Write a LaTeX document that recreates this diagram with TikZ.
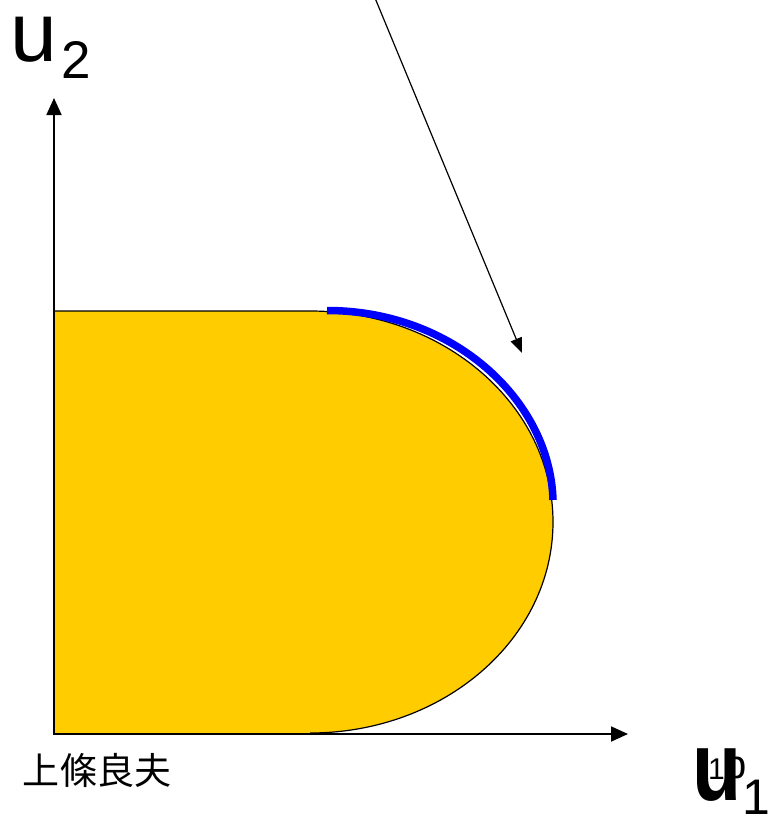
\documentclass[tikz,border=0pt]{standalone}
\usepackage{fontspec}
\setmainfont{Liberation Sans}
\newfontfamily\cjk{Noto Sans CJK JP}
\usetikzlibrary{arrows.meta}
\definecolor{gold}{RGB}{255,204,0}
\definecolor{pureblue}{RGB}{0,0,255}
\begin{document}
\begin{tikzpicture}[x=1pt,y=-1pt,
  axisline/.style={line width=1.8pt,-{Triangle[length=17pt,width=15pt]}},
  pointer/.style={line width=1.2pt,-{Triangle[length=15pt,width=12pt]}},
  outline/.style={line width=1.2pt},
  bluearc/.style={line width=7.5pt,draw=pureblue},
  lbl/.style={anchor=base west,inner sep=0pt,outer sep=0pt}]
\useasboundingbox (0,0) rectangle (775,816);
% region
\fill[gold] (55,311) -- (310,311) .. controls (444.2,311) and (553,405.5) .. (553,522)
  .. controls (553,638.5) and (444.2,733) .. (310,733) -- (55,733) -- cycle;
\draw[outline] (55,311) -- (310,311) .. controls (444.2,311) and (553,405.5) .. (553,522)
  .. controls (553,638.5) and (444.2,733) .. (310,733);
% axes
\coordinate (O) at (54,734);
\coordinate (ytip) at (54,98);
\coordinate (xtip) at (628,734);
\draw[axisline] (54,734.9) -- (ytip);
\draw[axisline] (53.1,734) -- (xtip);
% blue frontier
\coordinate (b0) at (327,310.5);
\coordinate (b1) at (553,500);
\draw[bluearc] (b0) .. controls (453,310.5) and (550,400) .. (b1);
% pointer arrow
\coordinate (ps) at (375,-2);
\coordinate (pt) at (522,353);
\draw[pointer] (ps) -- (pt);
% labels
\node[lbl,font=\fontsize{84}{84}\selectfont] (u2) at (10,62) {u};
\node[lbl,font=\fontsize{53}{53}\selectfont] (s2) at (61,78) {2};
\node[lbl,font=\cjk\fontsize{37}{37}\selectfont] (name) at (23,784) {上條良夫};
\node[lbl,font=\bfseries\fontsize{70}{70}\selectfont] (u1) at (692,800) {\scalebox{1.15}[1.4]{u}};
\node[lbl,font=\fontsize{30}{30}\selectfont] (one) at (708,779) {1};
\node[lbl,font=\fontsize{40}{40}\selectfont] (pp) at (724,778) {p};
\node[lbl,font=\fontsize{50}{50}\selectfont] (s1) at (742,814) {1};
\end{tikzpicture}
\end{document}
